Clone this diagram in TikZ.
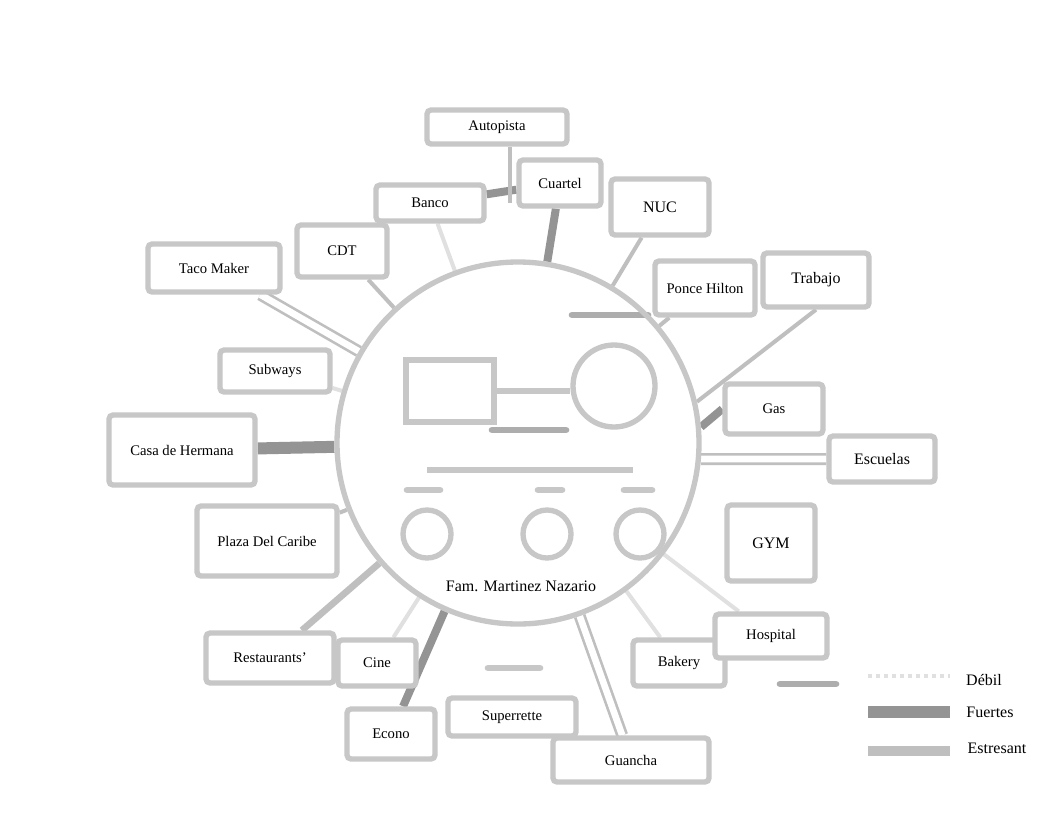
\documentclass[tikz,border=0pt]{standalone}
\usepackage{fontspec}
\setmainfont{Liberation Serif}
\usetikzlibrary{positioning, backgrounds}
\tikzset{
    box/.style={rectangle, rounded corners=3pt, draw=black!22, line width=4pt, fill=white,
                inner sep=2pt, font=\fontsize{11}{13}\selectfont},
    bigbox/.style={box, font=\fontsize{12}{14}\selectfont},
    sz/.style 2 args={minimum width=#1*0.75pt, minimum height=#2*0.75pt},
    famcircle/.style={circle, draw=black!22, line width=4pt, minimum size=362*0.75pt},
    person/.style={circle, draw=black!22, line width=4pt, fill=white},
    link/.style={black!25, line width=3pt},
    fuerte/.style={black!42, line width=6pt},
    estres/.style={black!25, line width=2pt, double=white, double distance=5pt},
    debil/.style={black!12, line width=3pt},
    smudge/.style={black!32, line width=5pt, line cap=round},
    genline/.style={black!22, line width=4pt}
}

\begin{document}
\begin{tikzpicture}[x=0.75pt, y=-0.75pt]
    \useasboundingbox (0,0) rectangle (1062,822);

    % family
    \node[famcircle] (fam) at (518,443) {};
    \node[font=\fontsize{12}{14}\selectfont] (famname) at (521,586) {Fam. Martinez Nazario};

    % genogram
    \node[rectangle, draw=black!22, line width=4pt, sz={88}{62}] (father) at (450,391) {};
    \node[person, minimum size=82*0.75pt] (mother) at (614,386) {};
    \node[person, minimum size=48*0.75pt] (child1) at (427,534) {};
    \node[person, minimum size=48*0.75pt] (child2) at (547,534) {};
    \node[person, minimum size=48*0.75pt] (child3) at (640,534) {};
    \coordinate (sibleft) at (427,470);
    \coordinate (sibright) at (633,470);
    \draw[genline] (father.east) -- (mother.west |- father.east);
    \draw[genline] (sibleft) -- (sibright);
    \draw[smudge] (492,430) -- (566,430);
    \draw[smudge, black!22] (407,490) -- (440,490);
    \draw[smudge, black!22] (538,490) -- (562,490);
    \draw[smudge, black!22] (624,490) -- (652,490);

    % outer ring
    \node[box, sz={140}{34}] (autopista) at (497,127) {Autopista};
    \node[box, sz={82}{46}] (cuartel) at (560,183) {Cuartel};
    \node[box, sz={108}{36}] (banco) at (430,203) {Banco};
    \node[bigbox, sz={98}{56}] (nuc) at (660,207) {NUC};
    \node[box, sz={90}{52}] (cdt) at (342,251) {CDT};
    \node[box, sz={132}{48}] (taco) at (214,268) {Taco Maker};
    \node[box, sz={100}{54}] (ponce) at (705,288) {Ponce Hilton};
    \node[bigbox, sz={106}{54}] (trabajo) at (816,280) {Trabajo};
    \node[box, sz={110}{42}] (subways) at (275,371) {Subways};
    \node[box, sz={146}{70}] (casa) at (182,450) {Casa de Hermana};
    \node[box, sz={140}{70}] (plaza) at (267,541) {Plaza Del Caribe};
    \node[box, sz={128}{50}] (restaurants) at (270,658) {Restaurants'};
    \node[box, sz={78}{46}] (cine) at (377,663) {Cine};
    \node[box, sz={88}{50}] (econo) at (391,734) {Econo};
    \node[box, sz={128}{38}] (superrette) at (512,717) {Superrette};
    \node[box, sz={156}{44}] (guancha) at (631,760) {Guancha};
    \node[box, sz={92}{46}] (bakery) at (679,663) {Bakery};
    \node[box, sz={112}{44}] (hospital) at (771,636) {Hospital};
    \node[box, sz={98}{50}] (gas) at (774,409) {Gas};
    \node[bigbox, sz={106}{46}] (escuelas) at (882,459) {Escuelas};
    \node[bigbox, sz={88}{76}] (gym) at (771,543) {GYM};

    % legend
    \node[font=\fontsize{12}{14}\selectfont] (ldebil) at (984,680) {Débil};
    \node[font=\fontsize{12}{14}\selectfont] (lfuerte) at (990,712) {Fuertes};
    \node[font=\fontsize{12}{14}\selectfont] (lestres) at (997,748) {Estresant};
    \coordinate (ldebilA) at (868,676);
    \coordinate (lfuerteA) at (868,712);
    \coordinate (lestresA) at (868,751);

    % connectors
    \begin{scope}[on background layer]
        \fill[white] (0,0) rectangle (1062,822);
        \draw[estres] (taco) -- (fam);
        \draw[link] (cdt) -- (fam);
        \draw[fuerte] (banco) -- (cuartel);
        \draw[debil] (banco) -- (fam);
        \draw[link] ([xshift=10pt]autopista.south) -- ([xshift=10pt]autopista.south |- banco);
        \draw[fuerte] (cuartel) -- (fam);
        \draw[link] (nuc) -- (fam);
        \draw[link] (ponce) -- (fam);
        \draw[smudge] (572,315) -- (648,315);
        \draw[link] (trabajo.south) -- (fam.13);
        \draw[fuerte] (gas.west) -- (fam.5);
        \draw[estres] (escuelas.west) -- (fam.-5);
        \draw[debil] (subways) -- (fam);
        \draw[fuerte, line width=9pt] (casa) -- (fam);
        \draw[link] (plaza) -- (fam);
        \draw[link, line width=5pt] (restaurants) -- (fam);
        \draw[debil] (cine) -- (fam);
        \draw[fuerte] (econo) -- (fam);
        \draw[smudge, black!22] (488,668) -- (540,668);
        \draw[estres] (guancha) -- (fam);
        \draw[debil] (bakery) -- (fam);
        \draw[debil] (hospital) -- (fam);
        \draw[smudge] (780,684) -- (836,684);
        % legend lines
        \draw[debil, dashed] (ldebilA) -- (ldebilA -| 950,0);
        \draw[fuerte, line width=9pt] (lfuerteA) -- (lfuerteA -| 950,0);
        \draw[link, line width=7pt] (lestresA) -- (lestresA -| 950,0);
    \end{scope}
\end{tikzpicture}
\end{document}
